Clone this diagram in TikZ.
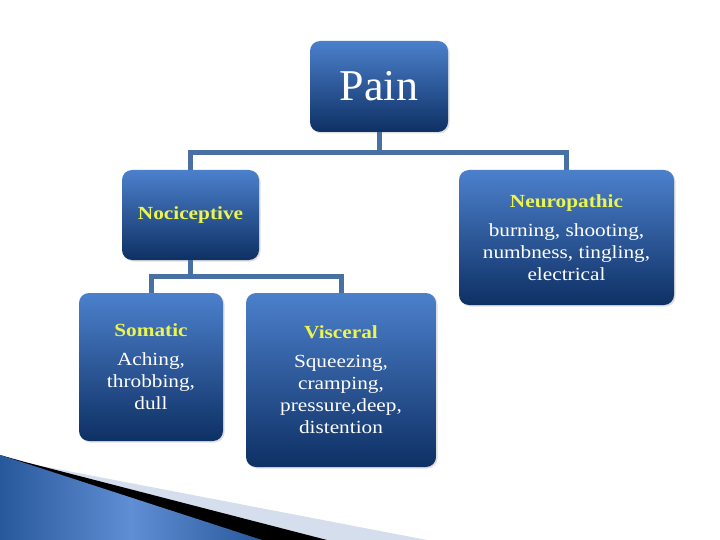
\documentclass[tikz,border=0pt]{standalone}
\usepackage{fontspec}
\setmainfont{Liberation Serif}[FakeStretch=1.15]
\newfontfamily\painfont{Liberation Serif}
\usetikzlibrary{shadows,calc}
\definecolor{boxtop}{RGB}{76,128,204}
\definecolor{boxbot}{RGB}{14,48,100}
\definecolor{conn}{RGB}{72,112,162}
\definecolor{ttl}{RGB}{236,244,80}
\definecolor{decogrey}{RGB}{212,222,236}
\definecolor{decoblue}{RGB}{40,88,156}
\definecolor{decolight}{RGB}{96,142,212}
\tikzset{
  box/.style={rounded corners=10pt, top color=boxtop, bottom color=boxbot,
    draw=none, text=white, align=center, inner sep=0pt,
    drop shadow={shadow xshift=1.5pt, shadow yshift=-1.5pt, opacity=0.25}},
  link/.style={draw=conn, line width=5pt},
  bodyfont/.style={font=\fontsize{18.5}{22}\selectfont},
}
\newcommand{\ttltext}[1]{{\color{ttl}\bfseries #1}}
\begin{document}
\begin{tikzpicture}[x=1pt,y=-1pt]
\useasboundingbox (0,0) rectangle (720,540);
% bottom-left decoration
\fill[decogrey] (0,458) -- (427,540) -- (0,540) -- cycle;
\fill[black] (0,455) -- (25,462) -- (327,540) -- (0,540) -- cycle;
\shade[left color=decoblue, right color=decoblue, middle color=decolight]
  (0,455) -- (262,540) -- (0,540) -- cycle;
% boxes
\node[box, minimum width=138pt, minimum height=91pt,
  font=\painfont\fontsize{44}{48}\selectfont] (pain) at (379,86.5) {Pain};
\node[box, bodyfont, minimum width=137pt, minimum height=90pt] (noci) at (190.5,215)
  {\ttltext{Nociceptive}};
\node[box, bodyfont, minimum width=215pt, minimum height=135pt] (neuro) at (566.5,237.5)
  {\ttltext{Neuropathic}\\[7pt] burning, shooting,\\ numbness, tingling,\\ electrical};
\node[box, bodyfont, minimum width=144pt, minimum height=148pt] (soma) at (151,367)
  {\ttltext{Somatic}\\[7pt] Aching,\\ throbbing,\\ dull};
\node[box, bodyfont, minimum width=190pt, minimum height=174pt] (visc) at (341,380)
  {\ttltext{Visceral}\\[7pt] Squeezing,\\ cramping,\\ pressure,deep,\\ distention};
% connectors
\coordinate (j1) at ($(pain.south)+(0,20)$);
\draw[link] (pain.south) -- (j1) -| (noci.north);
\draw[link] (j1) -| (neuro.north);
\coordinate (j2) at ($(noci.south)+(0,16)$);
\draw[link] (noci.south) -- (j2) -| (soma.north);
\draw[link] (j2) -| (visc.north);
\end{tikzpicture}
\end{document}
